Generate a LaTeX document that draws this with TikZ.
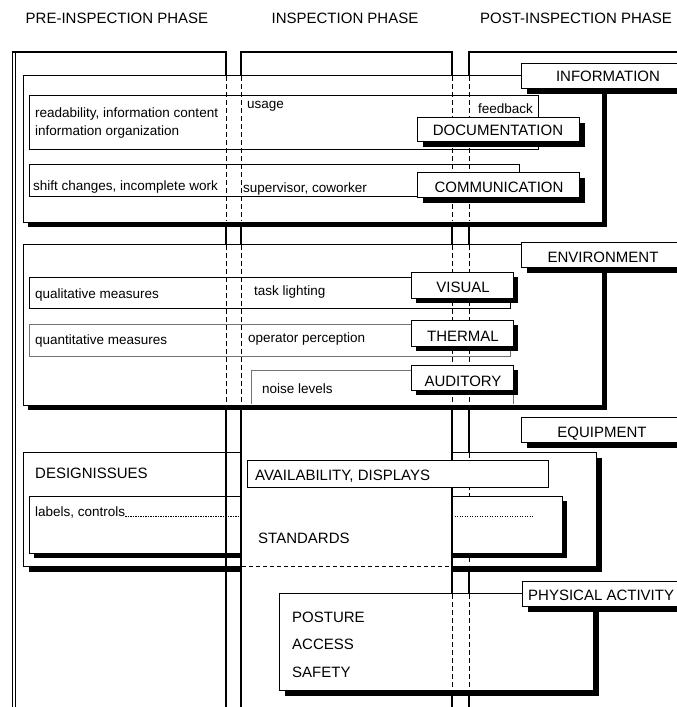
\documentclass[tikz,border=0pt]{standalone}
\usepackage{fontspec}
\setmainfont{Liberation Sans}
% framed box with a solid black drop shadow: x1 y1 x2 y2 offset
\newcommand\shadowrect[5]{%
  \fill[black] (#1+#5,#2+#5) rectangle (#3+#5,#4+#5);
  \draw[frame] (#1,#2) rectangle (#3,#4);}
\begin{document}
\begin{tikzpicture}[x=1pt,y=-1pt,
  frame/.style={draw=black,fill=white,line width=0.9pt},
  soft/.style={draw=black!55,fill=white,line width=0.8pt},
  colline/.style={draw=black,line width=1.2pt},
  dashline/.style={draw=black,line width=1pt,dash pattern=on 5pt off 3pt},
  dotline/.style={draw=black,line width=0.9pt,dash pattern=on 1.2pt off 1.3pt},
  captxt/.style={font=\fontsize{15}{18}\selectfont,inner sep=0pt},
  smalltxt/.style={font=\fontsize{13.5}{16}\selectfont,inner sep=0pt},
]
\useasboundingbox (0,0) rectangle (677,707);
\clip (0,0) rectangle (677,707);
\fill[white] (0,0) rectangle (677,707);

% ---------- phase headings ----------
\node[captxt,anchor=base] (hpre) at (117,23) {PRE-INSPECTION PHASE};
\node[captxt,anchor=base] (hins) at (345,23) {INSPECTION PHASE};
\node[captxt,anchor=base west] (hpost) at (480,23) {POST-INSPECTION PHASE};

% ---------- phase columns ----------
\draw[colline] (12.5,720) -- (12.5,52) -- (226,52) -- (226,720);
\draw[draw=black,line width=0.7pt] (15,52.6) -- (15,720);
\draw[colline] (241,720) -- (241,52) -- (452,52) -- (452,720);
\draw[colline] (469,720) -- (469,52) -- (700,52);

% ---------- information ----------
\shadowrect{23}{75}{602}{222}{5}
\draw[frame] (29,95) rectangle (538,149);
\draw[frame] (29,164) rectangle (519,196);
\node[smalltxt,anchor=base west] (read) at (35,117) {readability, information content};
\node[smalltxt,anchor=base west] (org) at (35,135) {information organization};
\node[smalltxt,anchor=base west] (usage) at (247,108) {usage};
\node[smalltxt,anchor=base west] (feed) at (478,113) {feedback};
\node[smalltxt,anchor=base west] (shift) at (33,190) {shift changes, incomplete work};
\node[smalltxt,anchor=base west] (super) at (243,192) {supervisor, coworker};
\foreach \x in {226,241,452,469} \draw[dashline] (\x,76) -- (\x,221);
\shadowrect{417}{117}{579}{141}{6}
\node[captxt,anchor=base] (doc) at (498,135.5) {DOCUMENTATION};
\shadowrect{417}{172}{579}{197}{6}
\node[captxt,anchor=base] (comm) at (499,192.5) {COMMUNICATION};
\shadowrect{521}{63}{720}{88}{6}
\node[captxt,anchor=base] (info) at (608,81.5) {INFORMATION};

% ---------- environment ----------
\shadowrect{23}{244}{602}{405}{5}
\draw[frame] (29,277) rectangle (510,308);
\draw[soft] (29,324) rectangle (510,356);
\fill[white] (251,370) rectangle (513,404);
\draw[soft] (251,404) -- (251,370) -- (513,370) -- (513,404);
\node[smalltxt,anchor=base west] (qual) at (35,298) {qualitative measures};
\node[smalltxt,anchor=base west] (task) at (254,295) {task lighting};
\node[smalltxt,anchor=base west] (quant) at (35,344) {quantitative measures};
\node[smalltxt,anchor=base west] (oper) at (248,342) {operator perception};
\node[smalltxt,anchor=base west] (noise) at (262,393) {noise levels};
\foreach \x in {226,241,452,469} \draw[dashline] (\x,245) -- (\x,404);
\shadowrect{411}{272}{513}{298}{5}
\node[captxt,anchor=base] (vis) at (463,292.5) {VISUAL};
\shadowrect{411}{320}{513}{346}{5}
\node[captxt,anchor=base] (therm) at (463,341) {THERMAL};
\shadowrect{411}{365}{513}{390}{5}
\node[captxt,anchor=base] (aud) at (463,386) {AUDITORY};
\shadowrect{521}{242}{720}{267}{6}
\node[captxt,anchor=base] (env) at (603,262.5) {ENVIRONMENT};

% ---------- equipment ----------
\shadowrect{521}{417}{720}{442}{6}
\node[captxt,anchor=base] (equip) at (602,437.5) {EQUIPMENT};
\shadowrect{23}{452}{596}{566}{6}
\draw[dashline] (469,453) -- (469,565);
\shadowrect{29}{496}{562}{553}{5}
\node[captxt,anchor=base west] (design) at (35,478) {DESIGNISSUES};
\node[smalltxt,anchor=base west] (labels) at (35,516) {labels, controls};
\draw[dotline] (labels.base east) -- (241,516);
\draw[dotline] (452,516) -- (533,516);
% inspection phase stays open across the equipment group
\fill[white] (241.6,449) rectangle (451.4,577);
\draw[colline] (226,440) -- (226,590);
\draw[colline] (241,440) -- (241,590);
\draw[colline] (452,440) -- (452,590);
\draw[dashline,line width=0.9pt,dash pattern=on 4pt off 3pt] (242,566) -- (451,566);
\draw[frame] (247,460) rectangle (548,487);
\node[captxt,anchor=base west] (avail) at (255,480) {AVAILABILITY, DISPLAYS};
\node[captxt,anchor=base west] (stand) at (258,543) {STANDARDS};

% ---------- physical activity ----------
\shadowrect{279}{593}{593}{690}{6}
\foreach \x in {452,469} \draw[dashline] (\x,594) -- (\x,689);
\shadowrect{522}{581}{720}{606}{6}
\node[captxt,anchor=base west] (phys) at (528,600) {PHYSICAL ACTIVITY};
\node[captxt,anchor=base west] (post) at (292,622) {POSTURE};
\node[captxt,anchor=base west] (acc) at (292,649) {ACCESS};
\node[captxt,anchor=base west] (safe) at (292,677) {SAFETY};
\end{tikzpicture}
\end{document}
